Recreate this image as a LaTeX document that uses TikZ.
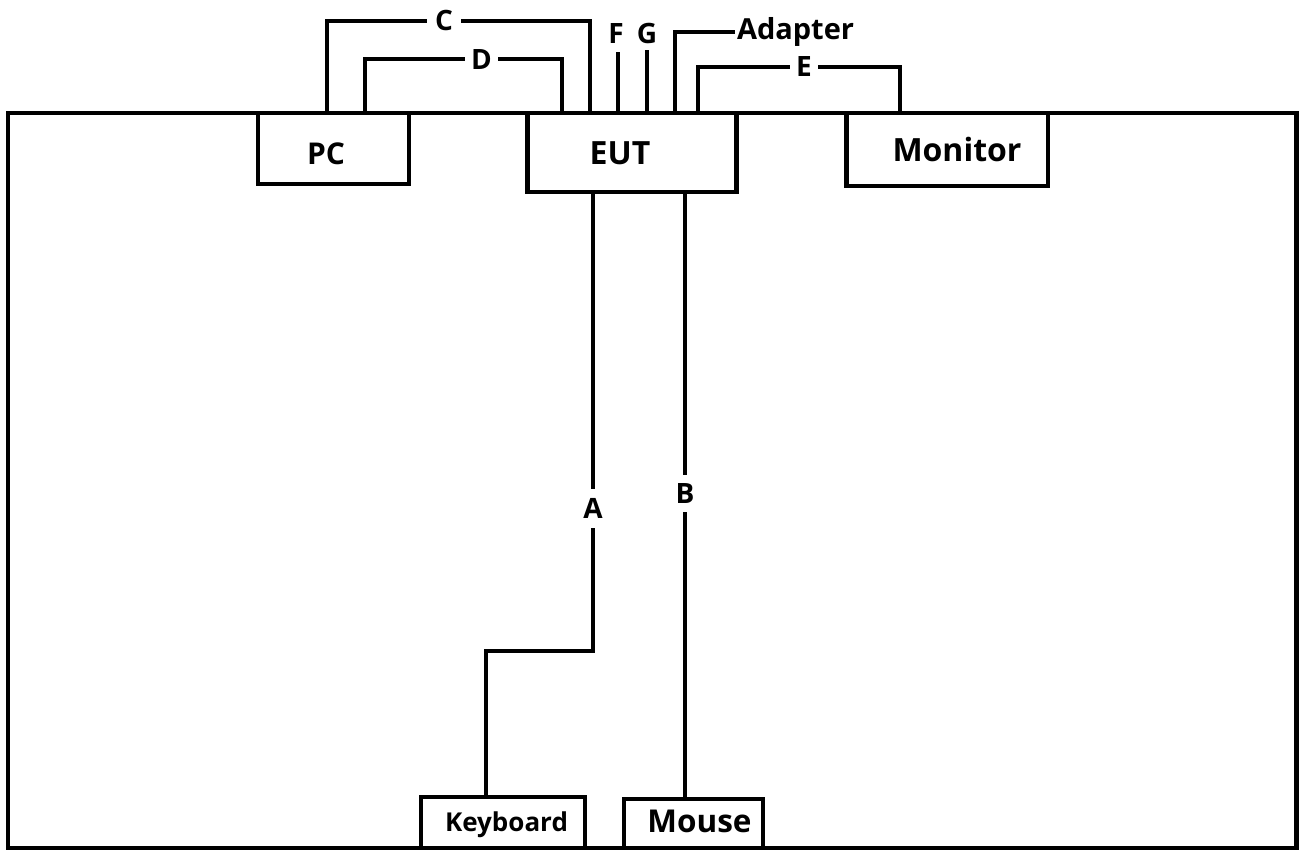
\documentclass[tikz,border=0pt]{standalone}
\usepackage{fontspec}
\setmainfont{Open Sans}
\begin{document}
\begin{tikzpicture}[x=1pt,y=-1pt,line width=4.2pt,
  box/.style={draw,rectangle,inner sep=0pt,outer sep=0pt,anchor=north west},
  btxt/.style={font=\bfseries\fontsize{#1}{#1}\selectfont,inner sep=0pt,anchor=base},
  lab/.style={font=\bfseries\fontsize{28}{28}\selectfont,inner sep=0pt,outer sep=0pt}]
\useasboundingbox (0,0) rectangle (1299,850);
% room frame
\draw (8,113) rectangle (1296.5,848);
% boxes
\node[box,minimum width=151pt,minimum height=71pt] (pc) at (258,113) {};
\node[box,minimum width=209pt,minimum height=79pt] (eut) at (527.5,113) {};
\node[box,minimum width=201.5pt,minimum height=73pt] (mon) at (846.5,113) {};
\node[box,minimum width=164pt,minimum height=51pt] (kb) at (421,797) {};
\node[box,minimum width=139pt,minimum height=49pt] (mouse) at (624,799) {};
% box texts
\node[btxt=30] (pct) at (326,165) {PC};
\node[btxt=32] (eutt) at (620,165) {EUT};
\node[btxt=32] (mont) at (957,161.7) {Monitor};
\node[btxt=26] (kbt) at (506.5,831.7) {Keyboard};
\node[btxt=31.5] (mouset) at (699.5,832.7) {Mouse};
% cable labels
\node[lab,minimum width=34pt] (C) at (444,20.7) {C};
\node[lab,minimum width=33pt] (D) at (481.5,59.3) {D};
\node[lab,minimum width=28pt] (E) at (804,66.7) {E};
\node[lab,anchor=base] (F) at (616,43.3) {F};
\node[lab,anchor=base] (G) at (647,43.3) {G};
\node[lab,anchor=west,font=\bfseries\fontsize{29}{29}\selectfont,inner xsep=2pt] (adp) at (735,31.7) {Adapter};
\node[lab,minimum height=39pt] (A) at (593,508.5) {A};
\node[lab,minimum height=37pt] (B) at (685,493.5) {B};
% connectors
\draw (pc.north -| 327,0) |- (C.west);
\draw (C.east) -| (eut.north -| 590,0);
\draw (pc.north -| 365,0) |- (D.west);
\draw (D.east) -| (eut.north -| 561.7,0);
\coordinate (ftop) at (617.7,51.7);
\coordinate (gtop) at (646.7,50);
\draw (eut.north -| ftop) -- (ftop);
\draw (eut.north -| gtop) -- (gtop);
\draw (eut.north -| 675,0) |- (adp.west);
\draw (eut.north -| 697.7,0) |- (E.west);
\draw (E.east) -| (mon.north -| 900,0);
\draw (eut.south -| A) -- (A.north);
\coordinate (kbturn) at (486,650.7);
\draw (A.south) |- (kbturn) -- (kb.north -| kbturn);
\draw (eut.south -| B) -- (B.north);
\draw (B.south) -- (mouse.north -| B);
\end{tikzpicture}
\end{document}
